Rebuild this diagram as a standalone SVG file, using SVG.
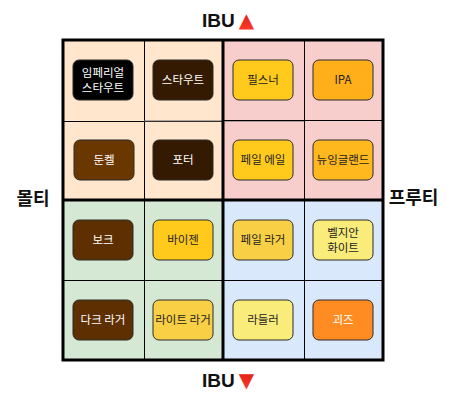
<svg xmlns="http://www.w3.org/2000/svg" width="458" height="403" viewBox="0 0 458 403">
<style>
.node rect{stroke:#2b2b2b;stroke-width:1}
.node text{font-family:"Noto Sans CJK KR","Noto Sans",sans-serif;font-size:11.5px;text-anchor:middle}
.dk text{fill:#ffffff}
.lt text{fill:#222222}
.axis{font-family:"Liberation Sans","Noto Sans CJK KR",sans-serif;font-weight:bold;fill:#111111}
.grid{stroke:#000;fill:none}
</style>
<defs>
<linearGradient id="tri" x1="0" y1="0" x2="0" y2="1">
<stop offset="0" stop-color="#d81b10"/>
<stop offset="1" stop-color="#ff3b2a"/>
</linearGradient>
</defs>
<rect width="458" height="403" fill="#ffffff"/>
<g id="quadrants">
<rect x="63" y="40" width="160" height="160" fill="#FFE6CC"/>
<rect x="223" y="40" width="160" height="160" fill="#F8CECC"/>
<rect x="63" y="200" width="160" height="160" fill="#D5E8D4"/>
<rect x="223" y="200" width="160" height="160" fill="#DAE8FC"/>
</g>
<g id="connectors">
<line class="grid" x1="144.5" y1="40" x2="144.5" y2="360" stroke-width="1"/>
<line class="grid" x1="304.5" y1="40" x2="304.5" y2="360" stroke-width="1"/>
<line class="grid" x1="63" y1="121.5" x2="223" y2="121.5" stroke-width="1"/>
<line x1="144" y1="121" x2="304" y2="121" stroke="#666" stroke-width="1"/>
<line class="grid" x1="223" y1="120.5" x2="383" y2="120.5" stroke-width="1"/>
<line class="grid" x1="63" y1="280.5" x2="383" y2="280.5" stroke-width="1"/>
<line class="grid" x1="223" y1="40" x2="223" y2="360" stroke-width="3"/>
<line class="grid" x1="63" y1="200" x2="383" y2="200" stroke-width="3"/>
<rect class="grid" x="63" y="40" width="320" height="320" stroke-width="3"/>
</g>
<text id="ibu-top" class="axis" x="202" y="26.5" font-size="19">IBU<tspan dx="4" fill="url(#tri)" font-family="DejaVu Sans" font-size="20">▲</tspan></text>
<text id="ibu-bottom" class="axis" x="202" y="387" font-size="19">IBU<tspan dx="4" fill="url(#tri)" font-family="DejaVu Sans" font-size="20">▼</tspan></text>
<text id="malty" class="axis" x="33" y="205" font-size="18" text-anchor="middle" font-family="Noto Sans CJK KR, sans-serif">몰티</text>
<text id="fruity" class="axis" x="413.5" y="204" font-size="18" text-anchor="middle" font-family="Noto Sans CJK KR, sans-serif">프루티</text>
<g id="imperial-stout" class="node dk"><rect x="73" y="60" width="60" height="40" rx="6" fill="#000000"/><text x="103" y="77">임페리얼</text><text x="103" y="92">스타우트</text></g>
<g id="stout" class="node dk"><rect x="153" y="60" width="60" height="40" rx="6" fill="#331A00"/><text x="183" y="84">스타우트</text></g>
<g id="pilsner" class="node lt"><rect x="233" y="60" width="60" height="40" rx="6" fill="#FFCA1C"/><text x="263" y="84">필스너</text></g>
<g id="ipa" class="node lt"><rect x="313" y="60" width="60" height="40" rx="6" fill="#FFAF1A"/><text x="343" y="84">IPA</text></g>
<g id="dunkel" class="node dk"><rect x="74" y="140" width="60" height="40" rx="6" fill="#6B3700"/><text x="104" y="164">둔켈</text></g>
<g id="porter" class="node dk"><rect x="153" y="140" width="60" height="40" rx="6" fill="#331A00"/><text x="183" y="164">포터</text></g>
<g id="pale-ale" class="node lt"><rect x="233" y="140" width="60" height="40" rx="6" fill="#FFCA1C"/><text x="263" y="164">페일 에일</text></g>
<g id="new-england" class="node lt"><rect x="313" y="140" width="60" height="40" rx="6" fill="#FFB81E"/><text x="343" y="164">뉴잉글랜드</text></g>
<g id="bock" class="node dk"><rect x="73" y="220" width="60" height="40" rx="6" fill="#5E2F00"/><text x="103" y="244">보크</text></g>
<g id="weizen" class="node lt"><rect x="153" y="220" width="60" height="40" rx="6" fill="#FFCA1C"/><text x="183" y="244">바이젠</text></g>
<g id="pale-lager" class="node lt"><rect x="233" y="220" width="60" height="40" rx="6" fill="#F9CF45"/><text x="263" y="244">페일 라거</text></g>
<g id="belgian-white" class="node lt"><rect x="313" y="220" width="60" height="40" rx="6" fill="#F9EC7A"/><text x="343" y="237">벨지안</text><text x="343" y="252">화이트</text></g>
<g id="dark-lager" class="node dk"><rect x="73" y="300" width="60" height="40" rx="6" fill="#5E2F00"/><text x="103" y="324">다크 라거</text></g>
<g id="light-lager" class="node lt"><rect x="153" y="300" width="60" height="40" rx="6" fill="#F9CF45"/><text x="183" y="324">라이트 라거</text></g>
<g id="radler" class="node lt"><rect x="233" y="300" width="60" height="40" rx="6" fill="#F9EC7A"/><text x="263" y="324">라들러</text></g>
<g id="gueuze" class="node dk"><rect x="313" y="300" width="60" height="40" rx="6" fill="#FF8C22"/><text x="343" y="324">괴즈</text></g>
</svg>
